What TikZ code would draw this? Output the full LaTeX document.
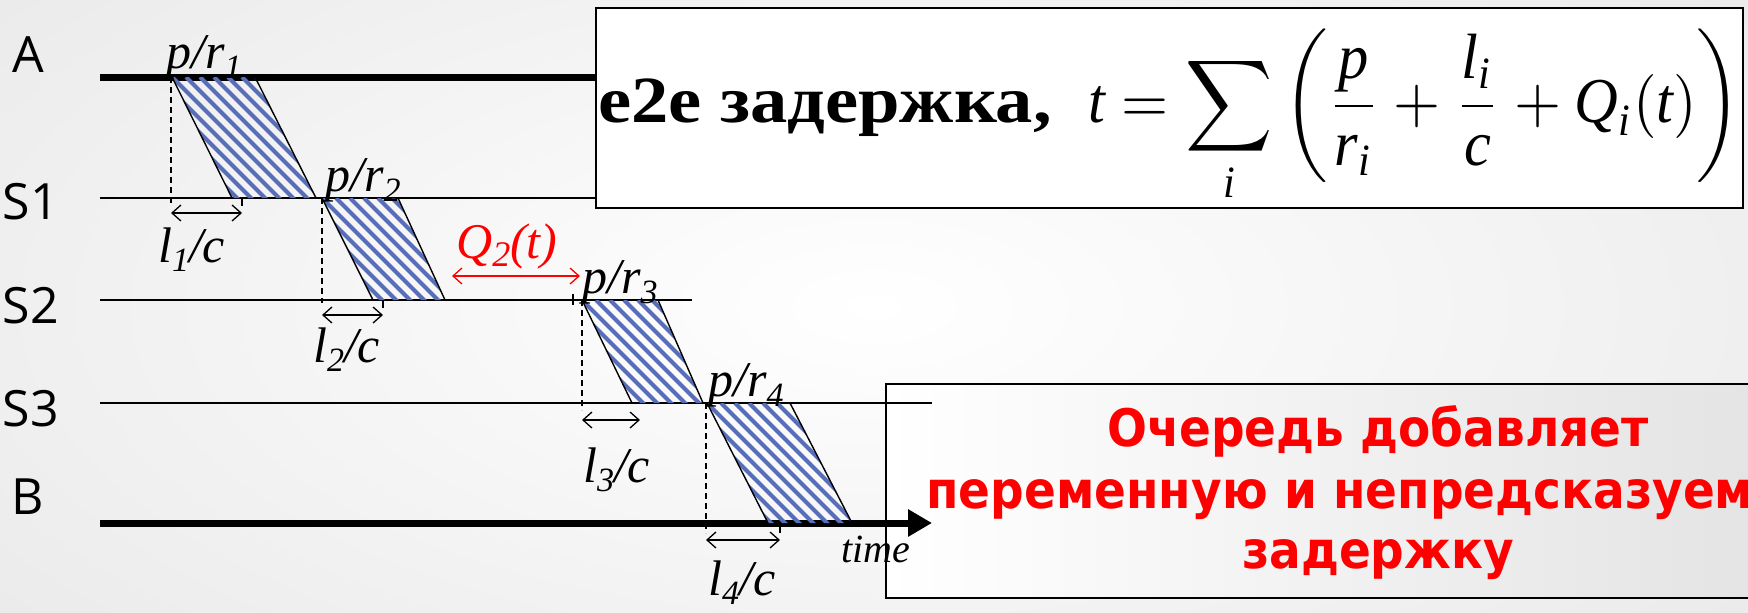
\documentclass[tikz,border=0pt]{standalone}
\usepackage{graphicx}
\usepackage{amsmath}
\usepackage{fontspec}
\setmainfont{Liberation Serif}
\newfontfamily\labelfont{Open Sans}
\newfontfamily\redfont{DejaVu Sans}
\usetikzlibrary{arrows.meta,calc}
\newcommand{\mi}[1]{\textit{#1}}
\newcommand{\prlab}[1]{\textit{p/r}\raisebox{-10pt}{\fontsize{34}{34}\selectfont\textit{#1}}}
\newcommand{\lclab}[1]{\textit{l}\raisebox{-9pt}{\fontsize{34}{34}\selectfont\textit{#1}}\textit{/c}}
\definecolor{stripeblue}{RGB}{88,110,184}
\definecolor{qred}{RGB}{255,0,0}
\tikzset{
  lanelab/.style={font=\labelfont\fontsize{50}{50}\selectfont, inner sep=0},
  thinline/.style={line width=1.6pt},
  thickline/.style={line width=7pt},
  dashv/.style={line width=1.3pt, dash pattern=on 6pt off 4pt},
  tickst/.style={line width=1.3pt},
  dimarr/.style={line width=1.3pt, {Straight Barb[length=9pt,width=16pt]}-{Straight Barb[length=9pt,width=16pt]}},
  pkt/.style={line width=1.4pt},
  stripe/.style={line width=4pt, stripeblue},
  itlab/.style={font=\fontsize{50}{50}\selectfont, inner sep=0, anchor=base west},
  redline/.style={font=\redfont\bfseries\fontsize{47}{47}\selectfont, text=qred, inner sep=0, anchor=base},
}
\begin{document}
\begin{tikzpicture}[x=1pt,y=-1pt]
\clip (0,0) rectangle (1748,613);
\shade[inner color=white, outer color=gray!16] (-250,-200) rectangle (1998,813);

% bottom box (behind lines)
\node[draw, line width=1.6pt, left color=white, right color=gray!22, minimum width=900pt, minimum height=214pt, inner sep=0, anchor=north west] (qbox) at (885,383) {};
\node[redline] (q1) at (1378,446) {\scalebox{1}[1.1]{Очередь добавляет}};
\node[redline] (q2) at (1378,508) {\scalebox{1}[1.1]{переменную и непредсказуемую}};
\node[redline] (q3) at (1378,568) {\scalebox{1}[1.1]{задержку}};

% lane labels
\node[lanelab] (lA) at (28,55) {A};
\node[lanelab] (lS1) at (31,202) {S1};
\node[lanelab] (lS2) at (31,306) {S2};
\node[lanelab] (lS3) at (31,409) {S3};
\node[lanelab] (lB) at (28,497) {B};

% lane lines
\coordinate (A0) at (100,77);  \coordinate (A1) at (600,77);
\coordinate (S10) at (100,198); \coordinate (S11) at (610,198);
\coordinate (S20) at (100,300); \coordinate (S21) at (692,300);
\coordinate (S30) at (100,403); \coordinate (S31) at (932,403);
\coordinate (B0) at (100,523);  \coordinate (B1) at (932,523);
\draw[thickline] (A0) -- (A1);
\draw[thinline] (S10) -- (S11);
\draw[thinline] (S20) -- (S21);
\draw[thinline] (S30) -- (S31);
\draw[thickline, -{Triangle[length=24pt,width=26pt]}] (B0) -- (B1);

% packets
\foreach \xa/\xb/\xc/\xd/\ya/\yb in {172/255/316/232/77/198, 322/398/445/373/198/300, 582/658/703/632/300/403, 707/790/852/768/403/523}{
  \begin{scope}
    \clip (\xa,\ya) -- (\xb,\ya) -- (\xc,\yb) -- (\xd,\yb) -- cycle;
    \foreach \d in {0,14,...,280}{
      \draw[stripe] (\xa-140+\d,\ya) -- ++(200,200);
    }
  \end{scope}
  \draw[pkt] (\xa,\ya) -- (\xd,\yb);
  \draw[pkt] (\xb,\ya) -- (\xc,\yb);
}

% dashed verticals
\draw[dashv] (171,77) -- (171,205);
\draw[dashv] (322,198) -- (322,303);
\draw[dashv] (582,300) -- (582,410);
\draw[dashv] (706,403) -- (706,533);

% ticks
\draw[tickst] (242,198) -- (242,206);
\draw[tickst] (383,300) -- (383,308);
\draw[tickst] (573,294) -- (573,305);
\draw[tickst] (780,523) -- (780,533);

% dimension arrows
\coordinate (d1a) at (171,213); \coordinate (d1b) at (242,213);
\coordinate (d2a) at (322,315); \coordinate (d2b) at (383,315);
\coordinate (d3a) at (582,420); \coordinate (d3b) at (640,420);
\coordinate (d4a) at (706,540); \coordinate (d4b) at (780,540);
\coordinate (qa) at (452,276);  \coordinate (qb) at (580,276);
\draw[dimarr] (d1a) -- (d1b);
\draw[dimarr] (d2a) -- (d2b);
\draw[dimarr] (d3a) -- (d3b);
\draw[dimarr] (d4a) -- (d4b);
\draw[dimarr, qred] (qa) -- (qb);

% italic labels
\node[itlab] (pr1) at (166,68) {\prlab{1}};
\node[itlab] (pr2) at (325,191) {\prlab{2}};
\node[itlab] (pr3) at (582,293) {\prlab{3}};
\node[itlab] (pr4) at (708,396) {\prlab{4}};
\node[itlab] (lc1) at (158,262) {\lclab{1}};
\node[itlab] (lc2) at (313,362) {\lclab{2}};
\node[itlab] (lc3) at (583,482) {\lclab{3}};
\node[itlab] (lc4) at (708,595) {\lclab{4}};
\node[itlab, text=qred] (q2t) at (456,258) {\textit{Q}\raisebox{-8pt}{\fontsize{36}{36}\selectfont\textit{2}}\textit{(t)}};
\node[itlab, font=\fontsize{40}{40}\selectfont] (time) at (841,562) {\textit{time}};

% top box with formula
\node[draw, line width=2pt, fill=white, minimum width=1147pt, minimum height=200pt, inner sep=0, anchor=north west] (fbox) at (595,7) {};
\node[anchor=base west, inner sep=0, font=\fontsize{66}{70}\selectfont] (e2e) at (598,122) {\scalebox{1.13}[1]{\textbf{e2e задержка,}}};
\node[anchor=base west, inner sep=0] (frm) at (1088,122) {\scalebox{6.05}[6.4]{$\displaystyle \mi{t} = \sum_{\mi{i}}\left(\rule[-10.2pt]{0pt}{25pt}\frac{\mi{p}}{\mi{r}_{\mi{i}}}+\frac{\mi{l}_{\mi{i}}}{\mi{c}}+\mi{Q}_{\mi{i}}(\mi{t})\right)$}};
\end{tikzpicture}
\end{document}
